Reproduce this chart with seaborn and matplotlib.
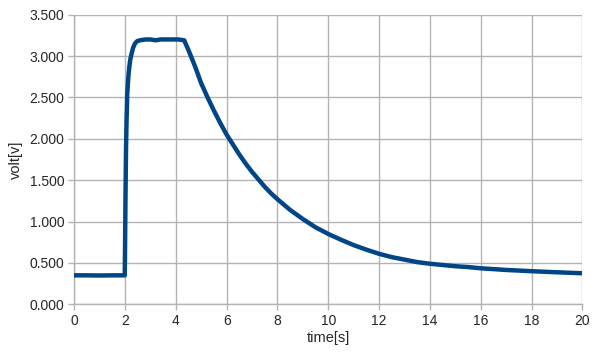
import pandas as pd
import matplotlib
matplotlib.use('Agg')
import matplotlib.pyplot as plt
import seaborn as sb
from matplotlib.ticker import FormatStrFormatter

    # values

time = [0, 0.5, 1.0, 1.5, 1.99, 2.0, 2.02, 2.04, 2.06, 2.09, 2.13, 2.17, 2.21, 2.26, 2.32, 2.39, 2.48, 2.59,
        2.8, 3.0, 3.2, 3.4, 3.8, 4.1, 4.33,
        4.5, 4.75, 5.0, 5.25, 5.5, 5.75, 6.0, 6.25, 6.5, 6.75, 7.0, 7.25, 7.5, 7.75, 8.0, 8.5, 9.0, 9.5,
        10, 10.5, 11, 11.5, 12, 12.5, 13, 13.5, 14, 14.5, 15, 15.5, 16, 17, 18, 19, 20]
volt = [0.35, 0.35, 0.348, 0.35, 0.35, 0.6, 1.3, 1.86, 2.2, 2.55, 2.74, 2.87, 2.96, 3.03, 3.10, 3.15, 3.18, 3.19,
        3.2, 3.2, 3.19, 3.2, 3.2, 3.2, 3.19,
        3.07, 2.88, 2.67, 2.50, 2.34, 2.19, 2.05, 1.93, 1.81, 1.70, 1.60, 1.51, 1.42, 1.34, 1.27, 1.14, 1.03, 0.93,
        0.85, 0.78, 0.715, 0.66, 0.61, 0.57, 0.54, 0.51, 0.49, 0.475, 0.46, 0.45, 0.435, 0.415, 0.40, 0.387, 0.375]

df = pd.DataFrame({'time': time, 'volt': volt})

sb.set_style('white')
plt.rcParams['font.family'] = ['Liberation Sans', 'DejaVu Sans']

fig = plt.figure(figsize=(6.13, 3.63), dpi=100)
ax = fig.add_axes([0.121, 0.1617, 0.829, 0.798])

sb.lineplot(data=df, x='time', y='volt', sort=False, color='#004586', linewidth=3.2, ax=ax, zorder=3,
            solid_joinstyle='round', solid_capstyle='round')

ax.set_xlim(0, 20)
ax.set_ylim(0, 3.5)
ax.set_xticks(range(0, 21, 2))
ax.set_yticks([0, 0.5, 1.0, 1.5, 2.0, 2.5, 3.0, 3.5])
ax.yaxis.set_major_formatter(FormatStrFormatter('%.3f'))
ax.grid(True, color='#b3b3b3', linewidth=1)
for s in ['top', 'right']:
    ax.spines[s].set_visible(False)
for s in ['left', 'bottom']:
    ax.spines[s].set_color('#b3b3b3')
    ax.spines[s].set_linewidth(1)
ax.tick_params(axis='both', length=4, width=1, color='#b3b3b3', labelsize=10, direction='out', pad=3,
               left=True, bottom=True)
ax.set_xlabel('time[s]', fontsize=10.5, labelpad=2)
ax.set_ylabel('volt[v]', fontsize=10.5, labelpad=5)

plt.savefig('out.png', dpi=100)
